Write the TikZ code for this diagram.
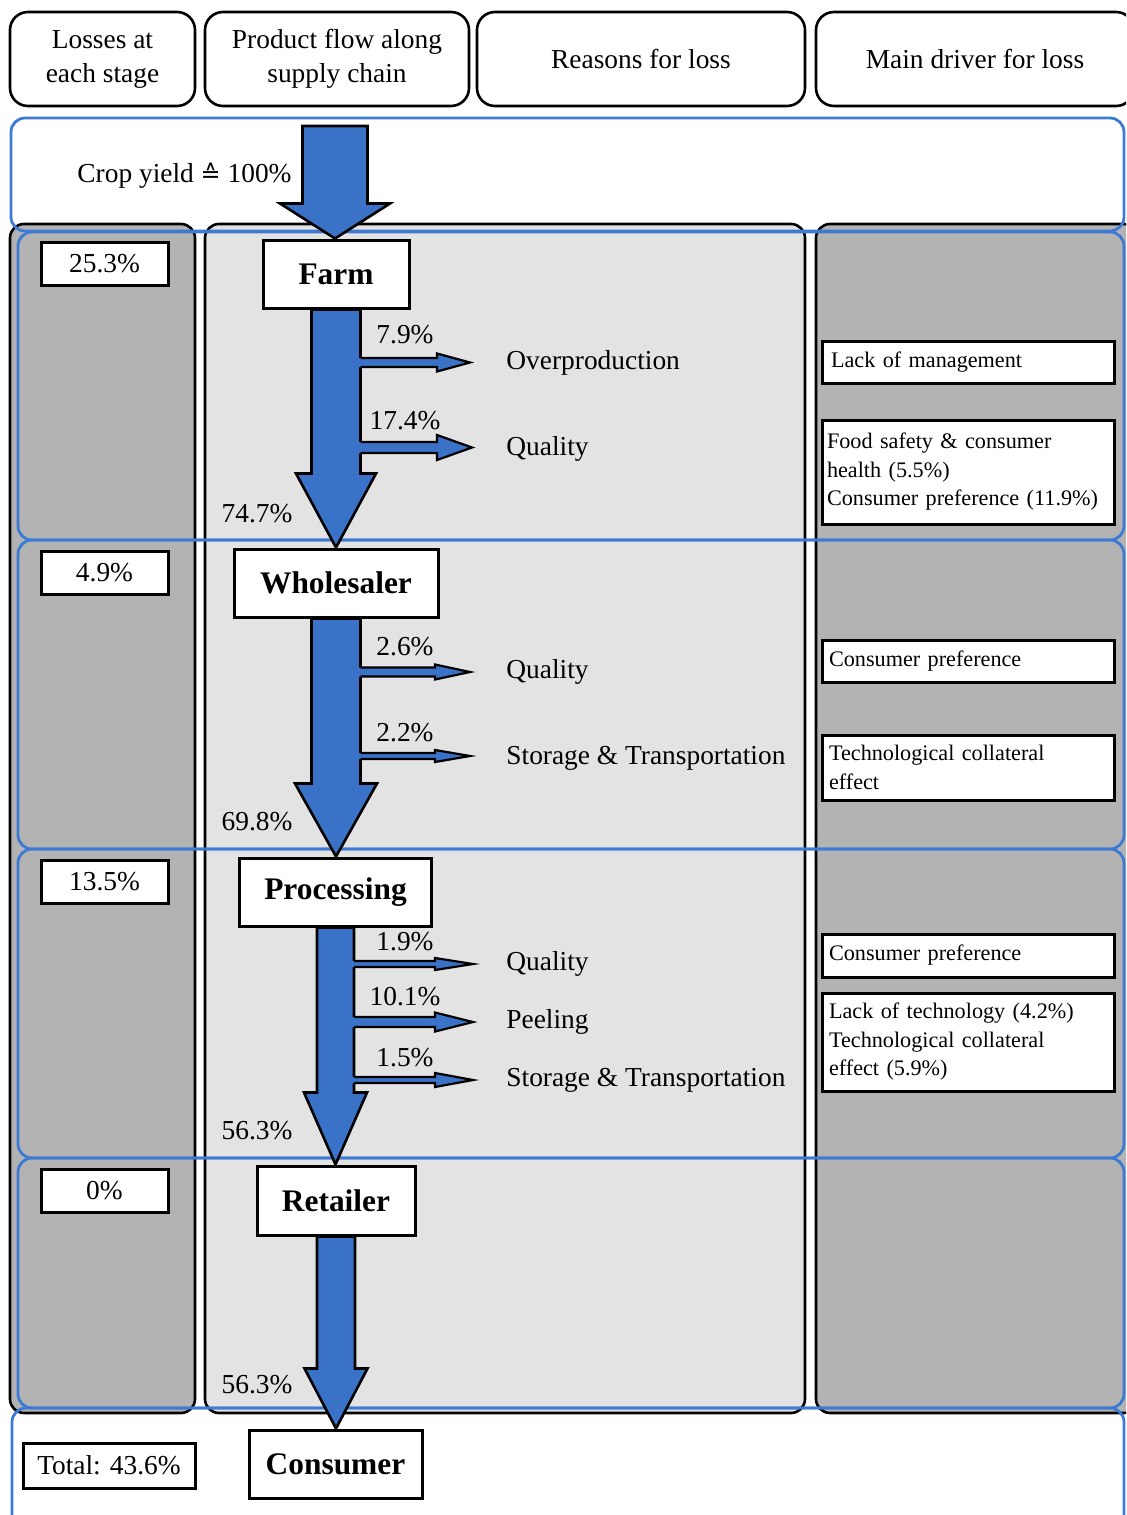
\documentclass[tikz,border=0pt]{standalone}
\usepackage{fontspec}
\setmainfont{Liberation Serif}
\newfontfamily\symfont{DejaVu Sans}
\usetikzlibrary{calc}
\definecolor{arrowblue}{RGB}{58,114,200}
\definecolor{lineblue}{RGB}{60,122,212}
\definecolor{colgray}{RGB}{179,179,179}
\definecolor{colgraylt}{RGB}{227,227,227}
% vertical block arrow: #1 start, #2 tip, #3 shaft half width, #4 head half width, #5 head length (pt)
\newcommand\vblock[5]{%
  \draw[blk] let \p1=#1, \p2=#2 in
    (\x1-#3pt,\y1) -- (\x1-#3pt,\y2+#5pt) -- (\x1-#4pt,\y2+#5pt) -- (\x1,\y2)
    -- (\x1+#4pt,\y2+#5pt) -- (\x1+#3pt,\y2+#5pt) -- (\x1+#3pt,\y1) -- cycle;}
% horizontal side arrow merging into a shaft: #1 shaft edge point, #2 tip
\newcommand\hblock[5]{%
  \fill[arrowblue] let \p1=#1, \p2=#2 in
    (\x1-1.6pt,\y2+#3pt) -- (\x2-#5pt,\y2+#3pt) -- (\x2-#5pt,\y2+#4pt) -- (\x2,\y2)
    -- (\x2-#5pt,\y2-#4pt) -- (\x2-#5pt,\y2-#3pt) -- (\x1-1.6pt,\y2-#3pt) -- cycle;
  \draw[sideline] let \p1=#1, \p2=#2 in
    (\x1,\y2+#3pt) -- (\x2-#5pt,\y2+#3pt) -- (\x2-#5pt,\y2+#4pt) -- (\x2,\y2)
    -- (\x2-#5pt,\y2-#4pt) -- (\x2-#5pt,\y2-#3pt) -- (\x1,\y2-#3pt);}
\tikzset{
  mainf/.style={font=\fontsize{13.7}{17}\selectfont},
  hdr/.style={draw,line width=1.3pt,rounded corners=9pt,align=center,inner sep=0pt,minimum height=47pt,mainf},
  lossbox/.style={draw,fill=white,line width=1.5pt,minimum width=63.5pt,minimum height=21.5pt,inner sep=0pt,mainf},
  stagebox/.style={draw,fill=white,line width=1.5pt,minimum height=34pt,inner sep=0pt,font=\fontsize{15.7}{18}\selectfont\bfseries},
  drvbox/.style={draw,fill=white,line width=1.5pt,text width=141pt,inner xsep=2.5pt,inner ysep=0pt,align=left,font=\fontsize{11.1}{14.25}\selectfont},
  reason/.style={anchor=base west,inner sep=0pt,mainf},
  pct/.style={inner sep=0pt,mainf},
  blk/.style={draw=black,fill=arrowblue,line width=1.3pt,line join=miter},
  sideline/.style={draw=black,line width=1.1pt,line join=miter},
  bluebox/.style={draw=lineblue,line width=1.4pt,rounded corners=7pt},
  colbox/.style={draw=black,line width=1.3pt,rounded corners=7pt},
}
\begin{document}
\begin{tikzpicture}[x=0.5pt,y=-0.5pt]
\useasboundingbox (0,0) rectangle (1126,1515);
\fill[white] (0,0) rectangle (1126,1515);
\clip (0,0) rectangle (1126,1515);

% header boxes
\node[hdr,minimum width=92.5pt] (h1) at (102.5,59) {Losses at\\each stage};
\node[hdr,minimum width=132pt] (h2) at (337,59) {Product flow along\\supply chain};
\node[hdr,minimum width=164pt] (h3) at (641,59) {Reasons for loss};
\node[hdr,minimum width=159pt] (h4) at (975,59) {Main driver for loss};

% grey columns
\draw[colbox,fill=colgray] (10,224) rectangle (195,1413);
\draw[colbox,fill=colgraylt] (205,224) rectangle (805,1413);
\draw[colbox,fill=colgray] (816,224) rectangle (1138,1413);

% blue stage frames
\draw[bluebox] (11,118) rectangle (1124,231);
\draw[bluebox] (18,232) rectangle (1124,540);
\draw[bluebox] (18,540) rectangle (1124,849);
\draw[bluebox] (18,849) rectangle (1124,1158);
\draw[bluebox] (18,1158) rectangle (1124,1408);
\draw[bluebox] (12,1408) rectangle (1124,1535);

% crop yield
\node[anchor=base west,inner sep=0pt,mainf] (crop) at (77,182) {Crop yield {\symfont\fontsize{12}{14}\selectfont ≙} 100\%};

% stage nodes
\node[stagebox,minimum width=73pt] (farm) at (336,274) {Farm};
\node[stagebox,minimum width=102pt] (whole) at (336,583) {Wholesaler};
\node[stagebox,minimum width=96pt] (proc) at (335.5,892) {Processing};
\node[stagebox,minimum width=79pt,minimum height=34.5pt] (ret) at (336,1200.5) {Retailer};
\node[stagebox,minimum width=86.5pt] (cons) at (335.5,1464) {Consumer};

% main flow arrows
\coordinate (src) at (335,126);
\vblock{(src)}{(farm.north)}{16.25}{27.5}{17.5}
\vblock{(farm.south)}{(whole.north)}{12.25}{20}{37}
\vblock{(whole.south)}{(proc.north)}{12.25}{20.5}{36.5}
\vblock{(proc.south)}{(ret.north)}{9.25}{15.75}{36}
\vblock{(ret.south)}{(cons.north)}{9.5}{15.75}{30}

% side arrows
\coordinate (t1) at (470,362.5);
\coordinate (t2) at (472,447.5);
\coordinate (t3) at (470,672);
\coordinate (t4) at (470,756);
\coordinate (t5) at (473,964);
\coordinate (t6) at (473,1022);
\coordinate (t7) at (473,1080);
\hblock{($(farm.south)+(24.5,0)$)}{(t1)}{2.25}{4.5}{16.5}
\hblock{($(farm.south)+(24.5,0)$)}{(t2)}{2.75}{6.25}{17.5}
\hblock{($(whole.south)+(24.5,0)$)}{(t3)}{2.25}{3.75}{17.5}
\hblock{($(whole.south)+(24.5,0)$)}{(t4)}{1.5}{3}{17.5}
\hblock{($(proc.south)+(18.5,0)$)}{(t5)}{1.5}{3}{19}
\hblock{($(proc.south)+(18.5,0)$)}{(t6)}{2.5}{4.75}{19}
\hblock{($(proc.south)+(18.5,0)$)}{(t7)}{1.5}{3.5}{19}

% percentages along the flow
\node[pct] (p1) at (405,335) {7.9\%};
\node[pct] (p2) at (405,421) {17.4\%};
\node[pct] (p3) at (257,514) {74.7\%};
\node[pct] (p4) at (405,647) {2.6\%};
\node[pct] (p5) at (405,733) {2.2\%};
\node[pct] (p6) at (257,822) {69.8\%};
\node[pct] (p7) at (405,942) {1.9\%};
\node[pct] (p8) at (405,997) {10.1\%};
\node[pct] (p9) at (405,1058) {1.5\%};
\node[pct] (p10) at (257,1131) {56.3\%};
\node[pct] (p11) at (257,1385) {56.3\%};

% reasons
\node[reason] (r1) at (506,369) {Overproduction};
\node[reason] (r2) at (506,455) {Quality};
\node[reason] (r3) at (506,678) {Quality};
\node[reason] (r4) at (506,764) {Storage \& Transportation};
\node[reason] (r5) at (506,970) {Quality};
\node[reason] (r6) at (506,1028) {Peeling};
\node[reason] (r7) at (506,1086) {Storage \& Transportation};

% losses per stage
\node[lossbox] (l1) at (104.5,264) {25.3\%};
\node[lossbox] (l2) at (104.5,572.5) {4.9\%};
\node[lossbox] (l3) at (104.5,881.5) {13.5\%};
\node[lossbox] (l4) at (104.5,1190.5) {0\%};
\node[lossbox,minimum width=86pt,minimum height=22.5pt] (total) at (109,1465.5) {Total: 43.6\%};

% main drivers
\node[drvbox,minimum height=21pt] (d1) at (968,362) {\hspace{2pt}Lack of management};
\node[drvbox,minimum height=52pt] (d2) at (968,472) {Food safety \& consumer\\health (5.5\%)\\Consumer preference (11.9\%)};
\node[drvbox,minimum height=21pt] (d3) at (968,661) {\hspace{1pt}Consumer preference};
\node[drvbox,minimum height=32.5pt] (d4) at (968,767.5) {\hspace{1pt}Technological collateral\\\hspace{1pt}effect};
\node[drvbox,minimum height=21.5pt] (d5) at (968,955.5) {\hspace{1pt}Consumer preference};
\node[drvbox,minimum height=49pt] (d6) at (968,1042) {\hspace{1pt}Lack of technology (4.2\%)\\\hspace{1pt}Technological collateral\\\hspace{1pt}effect (5.9\%)};
\end{tikzpicture}
\end{document}
